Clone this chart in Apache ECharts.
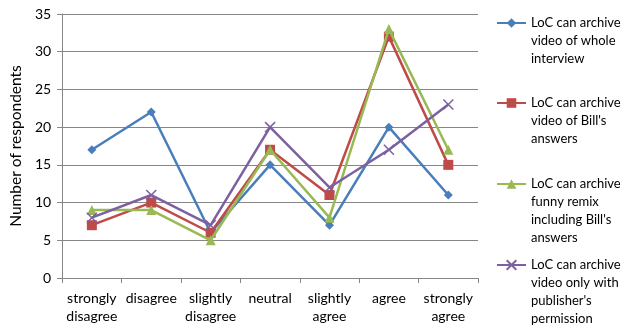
<!DOCTYPE html>
<html><head><meta charset="utf-8">
<script src="https://cdn.jsdelivr.net/npm/echarts@6/dist/echarts.min.js"></script>
<style>html,body{margin:0;padding:0;background:#fff}#c{width:628px;height:328px}</style>
</head><body><div id="c"></div>
<script>
var categories = ['strongly\ndisagree','disagree','slightly\ndisagree','neutral','slightly\nagree','agree','strongly\nagree'];
var seriesNames = [
  'LoC can archive\nvideo of whole\ninterview',
  'LoC can archive\nvideo of Bill\'s\nanswers',
  'LoC can archive\nfunny remix\nincluding Bill\'s\nanswers',
  'LoC can archive\nvideo only with\npublisher\'s\npermission'
];
var wholeInterview = [17, 22, 6, 15, 7, 20, 11];
var billsAnswers   = [7, 10, 6, 17, 11, 32, 15];
var funnyRemix     = [9, 9, 5, 17, 8, 33, 17];
var publisherOnly  = [8, 11, 7, 20, 12, 17, 23];
var yTicks = [0, 5, 10, 15, 20, 25, 30, 35];

var colors = ['#4A7EBB','#BE4B48','#98B954','#7D60A0'];
var symbols = ['diamond','rect','triangle','path://M0,0L10,10M10,0L0,10'];
var symSizes = [9, 10, 10, 10];
var datas = [wholeInterview, billsAnswers, funnyRemix, publisherOnly];
var FONT = 'Lato';
var LH = 18;

var series = datas.map(function(d, i){
  return {
    name: seriesNames[i], type: 'line', data: d,
    symbol: symbols[i], symbolSize: symSizes[i], showSymbol: true,
    lineStyle: {color: colors[i], width: 2.5},
    itemStyle: {color: colors[i], borderColor: colors[i], borderWidth: i === 3 ? 1.5 : 0},
    z: 2 + i
  };
});

var legendTops = [23, 103, 184, 265];
var legends = seriesNames.map(function(n, i){
  var lines = n.split('\n').length;
  var blanks = new Array(lines).join('\n');
  var total = 2 * lines - 1;
  return {
    data: [n], left: 496, top: legendTops[i] - total * LH / 2,
    padding: 0, orient: 'vertical', itemWidth: 29, itemHeight: 12, itemGap: 2,
    selectedMode: false,
    formatter: function(name){ return blanks + name; },
    textStyle: {fontFamily: FONT, fontSize: 13, color: '#000', lineHeight: LH}
  };
});

var chart = echarts.init(document.getElementById('c'), null, {renderer: 'canvas'});
chart.setOption({
  animation: false,
  color: colors,
  textStyle: {fontFamily: FONT},
  grid: {left: 54, top: 14, right: 150, bottom: 50, containLabel: false},
  legend: legends,
  xAxis: {
    type: 'category', data: categories, boundaryGap: true,
    axisLine: {lineStyle: {color: '#868686', width: 1}},
    axisTick: {show: true, length: 5, lineStyle: {color: '#868686'}},
    axisLabel: {fontFamily: FONT, fontSize: 14, color: '#000', margin: 11, lineHeight: 18, interval: 0}
  },
  yAxis: {
    type: 'value', min: yTicks[0], max: yTicks[yTicks.length - 1], interval: 5,
    name: 'Number of respondents', nameLocation: 'middle', nameGap: 36,
    nameTextStyle: {fontFamily: FONT, fontSize: 15.5, color: '#000'},
    axisLine: {show: true, lineStyle: {color: '#868686'}},
    axisTick: {show: true, length: 5, inside: false, lineStyle: {color: '#868686'}},
    axisLabel: {fontFamily: FONT, fontSize: 14, color: '#000', margin: 11},
    splitLine: {lineStyle: {color: '#868686', width: 1}}
  },
  series: series
});
</script></body></html>
